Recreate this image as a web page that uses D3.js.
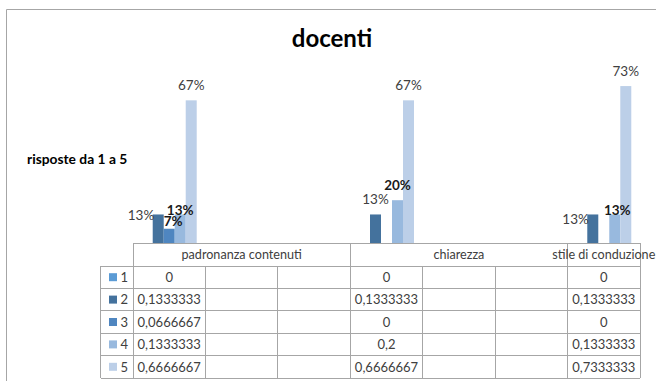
<!DOCTYPE html>
<html>
<head>
<meta charset="utf-8">
<script src="https://cdn.jsdelivr.net/npm/d3@7/dist/d3.min.js"></script>
<style>
  html, body { margin: 0; padding: 0; background: #fff; }
  svg { display: block; font-family: Lato, "Open Sans", sans-serif; }
</style>
</head>
<body>
<svg id="chart" width="656" height="381"></svg>
<script>
// Categories (blank entries are empty columns of the data table)
const categories = ["padronanza contenuti", "", "", "chiarezza", "", "", "stile di conduzione"];
const seriesNames = ["1", "2", "3", "4", "5"];
// Share of answers per score (1..5) for each category; null = empty cell
const serie1 = [0,         null, null, 0,         null, null, 0];
const serie2 = [0.1333333, null, null, 0.1333333, null, null, 0.1333333];
const serie3 = [0.0666667, null, null, 0,         null, null, 0];
const serie4 = [0.1333333, null, null, 0.2,       null, null, 0.1333333];
const serie5 = [0.6666667, null, null, 0.6666667, null, null, 0.7333333];
const seriesValues = [serie1, serie2, serie3, serie4, serie5];
const seriesColors = ["#5b9bd5", "#44729d", "#4f86c0", "#98b9de", "#bccfe8"];

const title = "docenti";
const yTitle = "risposte da 1 a 5";

// Data-label layout: which labels are shown and how they sit next to their bar
// pos: "top" = centred above, "left" = left of the bar; bold flag per label
const labelLayout = [
  { c: 0, s: 1, pos: "left", dy: 1,  bold: false },
  { c: 0, s: 2, pos: "top",  dx: 4,  dy: 7, bold: true },
  { c: 0, s: 3, pos: "top",  dx: 0,  dy: 11, bold: true },
  { c: 0, s: 4, pos: "top",  dx: 0,  dy: 0, bold: false },
  { c: 3, s: 1, pos: "top",  dx: 0,  dy: 0, bold: false },
  { c: 3, s: 3, pos: "top",  dx: 0,  dy: 0, bold: true },
  { c: 3, s: 4, pos: "top",  dx: 0,  dy: 0, bold: false },
  { c: 6, s: 1, pos: "left", dy: 4.5, bold: false },
  { c: 6, s: 3, pos: "top",  dx: 2.5, dy: 11, bold: true },
  { c: 6, s: 4, pos: "top",  dx: 0,  dy: 0, bold: false }
];

const svg = d3.select("#chart");
const W = 656, H = 381;
const gridColor = "#a6a6a6";
const textColor = "#404040";

// Chart area frame (continues past the right/bottom edge)
svg.append("path")
  .attr("d", `M6.5,${H} V9.5 H${W}`)
  .attr("fill", "none").attr("stroke", "#a6a6a6").attr("stroke-width", 1);

// Title
svg.append("text")
  .attr("x", 332).attr("y", 46.5)
  .attr("text-anchor", "middle")
  .attr("font-size", 24).attr("font-weight", "bold").attr("fill", "#000")
  .text(title);

// Axis title
svg.append("text")
  .attr("x", 27).attr("y", 163.5)
  .attr("font-size", 13.8).attr("font-weight", "bold").attr("fill", "#000")
  .text(yTitle);

// Scales
const x = d3.scaleBand().domain(d3.range(categories.length)).range([133, 640]);
const xs = d3.scaleBand().domain(d3.range(seriesNames.length)).range([-27.5, 27.5]);
const y = d3.scaleLinear().domain([0, 0.8]).range([243, 71.8]);

// Bars
const barData = [];
seriesValues.forEach((vals, s) => vals.forEach((v, c) => {
  if (v !== null) barData.push({ c, s, v });
}));
const barX = d => x(d.c) + x.bandwidth() / 2 + xs(d.s);

svg.append("g").selectAll("rect").data(barData).join("rect")
  .attr("x", barX)
  .attr("y", d => y(d.v))
  .attr("width", xs.bandwidth())
  .attr("height", d => y(0) - y(d.v))
  .attr("fill", d => seriesColors[d.s]);

// Data labels
const pct = d3.format(".0%");
svg.append("g").selectAll("text").data(labelLayout).join("text")
  .each(function (L) {
    const v = seriesValues[L.s][L.c];
    const bx = x(L.c) + x.bandwidth() / 2 + xs(L.s);
    const t = d3.select(this)
      .attr("font-size", 13.5)
      .attr("font-weight", L.bold ? "bold" : "normal")
      .attr("fill", L.bold ? "#1a1a1a" : textColor)
      .text(pct(v));
    if (L.pos === "left") {
      t.attr("text-anchor", "end").attr("x", bx + 1.5).attr("y", y(v) + 5 + L.dy);
    } else {
      t.attr("text-anchor", "middle")
        .attr("x", bx + xs.bandwidth() / 2 + L.dx)
        .attr("y", y(v) - 10 + L.dy);
    }
  });

// Data table
const tableTop = 243, headerBottom = 266, rowH = 22.4;
const rowHeadLeft = 100.5, colLeft = 133;
const nRows = seriesNames.length;
const tableBottom = headerBottom + rowH * nRows;
const lines = svg.append("g").attr("stroke", gridColor).attr("stroke-width", 1)
  .attr("shape-rendering", "crispEdges");

// header row outline
lines.append("line").attr("x1", colLeft).attr("x2", 640).attr("y1", tableTop).attr("y2", tableTop);
// horizontal row lines
d3.range(nRows + 1).forEach(i => {
  const yy = headerBottom + i * rowH;
  lines.append("line").attr("x1", rowHeadLeft).attr("x2", 640).attr("y1", yy).attr("y2", yy);
});
// vertical lines: row-header column
lines.append("line").attr("x1", rowHeadLeft).attr("x2", rowHeadLeft).attr("y1", headerBottom).attr("y2", tableBottom);
// column boundaries: full height where a category label starts/ends, rows only otherwise
const bounds = d3.range(categories.length + 1).map(i => i < categories.length ? x(i) : x.range()[1]);
bounds.forEach((bx, i) => {
  const fullHeight = i === 0 || i === categories.length || categories[i] !== "";
  lines.append("line").attr("x1", bx).attr("x2", bx)
    .attr("y1", fullHeight ? tableTop : headerBottom).attr("y2", tableBottom);
});

// header labels: each label is centred over its column plus the blank columns that follow it
const headerCells = [];
categories.forEach((c, i) => {
  if (c === "") return;
  let j = i + 1;
  while (j < categories.length && categories[j] === "") j++;
  headerCells.push({ c, x0: x(i), x1: j < categories.length ? x(j) : x.range()[1] });
});
svg.append("g").selectAll("text").data(headerCells)
  .join("text")
  .attr("x", d => (d.x0 + d.x1) / 2)
  .attr("y", (tableTop + headerBottom) / 2 + 4.5)
  .attr("text-anchor", "middle")
  .attr("font-size", 12.6).attr("fill", textColor)
  .text(d => d.c);

// row headers: legend key + series name
const rowG = svg.append("g").selectAll("g").data(seriesNames).join("g")
  .attr("transform", (d, i) => `translate(0,${headerBottom + i * rowH + rowH / 2})`);
rowG.append("rect").attr("x", 109).attr("y", -4).attr("width", 8).attr("height", 8)
  .attr("fill", (d, i) => seriesColors[i]);
rowG.append("text").attr("x", 120.5).attr("y", 4.8)
  .attr("font-size", 13).attr("fill", textColor).text(d => d);

// cell values
const fmtCell = v => String(v).replace(".", ",");
svg.append("g").selectAll("text").data(barData).join("text")
  .attr("x", d => x(d.c) + x.bandwidth() / 2)
  .attr("y", d => headerBottom + d.s * rowH + rowH / 2 + 4.8)
  .attr("text-anchor", "middle")
  .attr("font-size", 13).attr("fill", textColor)
  .text(d => fmtCell(d.v));
</script>
</body>
</html>
